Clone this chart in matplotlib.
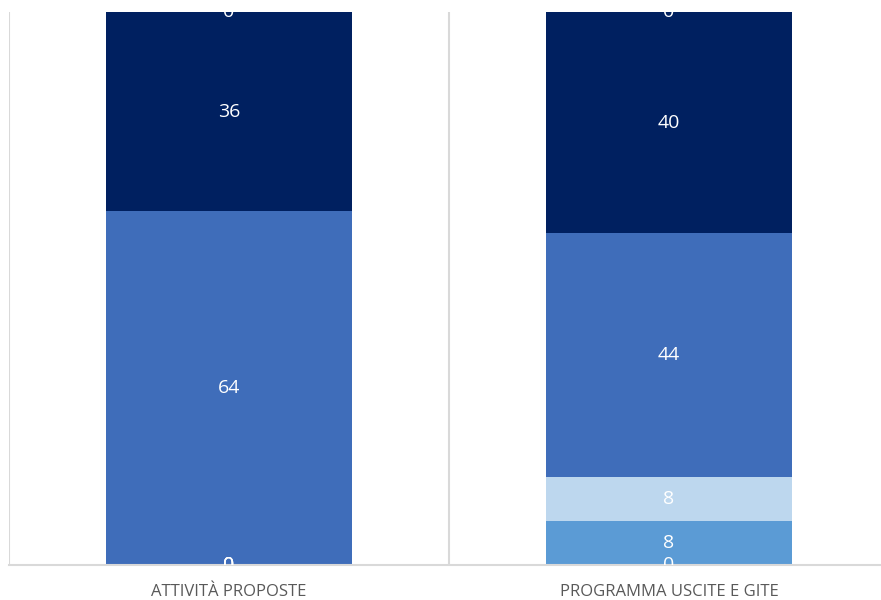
import numpy as np
import matplotlib.pyplot as plt

# Stacked shares per item (percent), bottom to top
categories = ['ATTIVITÀ PROPOSTE', 'PROGRAMMA USCITE E GITE']
series_names = ['Per niente', 'Poco', 'Abbastanza', 'Molto', 'Moltissimo', 'Non so']
values = [
    [0, 0],
    [0, 8],
    [0, 8],
    [64, 44],
    [36, 40],
    [0, 0],
]
colors = ['#A5A5A5', '#5B9BD5', '#BDD7EE', '#3F6DBA', '#002060', '#264478']

fig = plt.figure(figsize=(8.81, 6.0), dpi=100)
# plot area runs a little past the right edge of the canvas
ax = fig.add_axes([9 / 881, 35 / 600, 880 / 881, 553 / 600])

x = np.arange(len(categories))
bottom = np.zeros(len(categories))
for name, vals, col in zip(series_names, values, colors):
    vals = np.array(vals, dtype=float)
    ax.bar(x, vals, width=0.557, bottom=bottom, color=col, label=name, zorder=2)
    for xi, b, v in zip(x, bottom, vals):
        ax.text(xi, b + v / 2, f'{v:g}', ha='center', va='center', color='white',
                fontsize=14, family='Open Sans', clip_on=True, zorder=3)
    bottom += vals

ax.set_xlim(-0.5, 1.5)
ax.set_ylim(0, 100)

# category separators
for xs in [-0.5, 0.5, 1.5]:
    ax.axvline(xs, color='#D9D9D9', lw=1.5, zorder=1)

for s in ['top', 'left', 'right']:
    ax.spines[s].set_visible(False)
ax.spines['bottom'].set_color('#D9D9D9')
ax.spines['bottom'].set_linewidth(1.5)
ax.set_yticks([])
ax.set_xticks(x)
ax.set_xticklabels(categories, fontsize=12, family='Open Sans', color='#595959')
ax.tick_params(axis='x', length=0, pad=14)

fig.savefig('out.png', dpi=100)
